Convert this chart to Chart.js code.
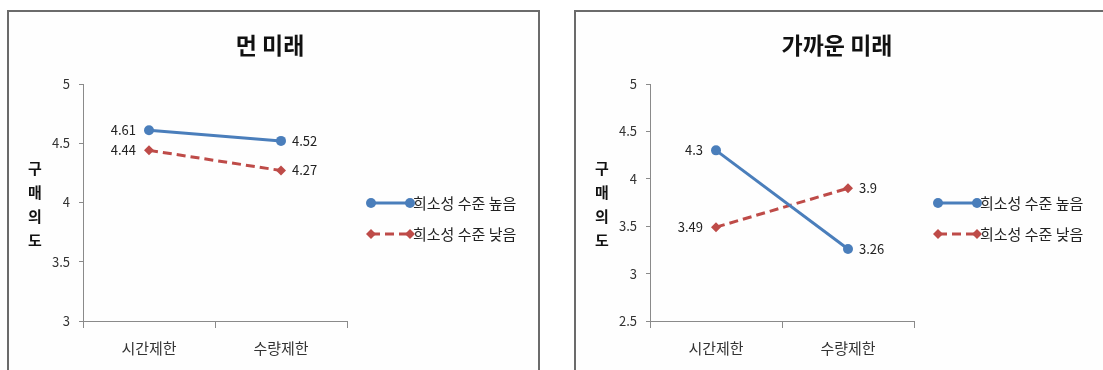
<!DOCTYPE html>
<html lang="ko">
<head>
<meta charset="utf-8">
<title>구매의도</title>
<script src="https://cdn.jsdelivr.net/npm/chart.js@4/dist/chart.umd.min.js"></script>
<style>
  html, body { margin: 0; padding: 0; background: #ffffff; }
  body { width: 1103px; height: 370px; position: relative; overflow: hidden; }
  .panel { position: absolute; top: 10px; height: 380px; border: 2px solid #6b6b6b; box-sizing: border-box; background: #fefefe; }
  #panelFar { left: 7px; width: 533px; }
  #panelNear { left: 574px; width: 560px; }
  canvas { position: absolute; top: 10px; }
  #far { left: 7px; }
  #near { left: 574px; }
</style>
</head>
<body>
<div class="panel" id="panelFar"></div>
<div class="panel" id="panelNear"></div>
<canvas id="far" width="533" height="360"></canvas>
<canvas id="near" width="533" height="360"></canvas>
<script>
// Categories, series and axis settings
const categories = ['시간제한', '수량제한'];
const seriesNames = ['희소성 수준 높음', '희소성 수준 낮음'];
const axisTitle = ['구', '매', '의', '도'];

const farTitle = '먼 미래';
const farHigh = [4.61, 4.52];
const farLow = [4.44, 4.27];
const farYMin = 3;
const farYMax = 5;

const nearTitle = '가까운 미래';
const nearHigh = [4.3, 3.26];
const nearLow = [3.49, 3.9];
const nearYMin = 2.5;
const nearYMax = 5;

const yStep = 0.5;

const FONT = "'Noto Sans CJK KR', 'Noto Sans', sans-serif";
const BLUE = '#4a7ebb';
const RED = '#be4b48';
const AXIS = '#8a8a8a';
const TEXT = '#222222';

// Title, stacked axis title, data labels and legend drawn over each panel
const panelDecor = {
  id: 'panelDecor',
  afterDatasetsDraw(chart, args, opts) {
    const ctx = chart.ctx;
    const area = chart.chartArea;
    ctx.save();

    // title
    ctx.fillStyle = '#111';
    ctx.font = `bold 23px ${FONT}`;
    ctx.textAlign = 'center';
    ctx.textBaseline = 'middle';
    ctx.fillText(opts.title, 263, 35);

    // vertical axis title, one syllable per line
    ctx.font = `bold 15px ${FONT}`;
    const midY = (area.top + area.bottom) / 2;
    const gap = 24;
    axisTitle.forEach((ch, i) => {
      ctx.fillText(ch, 28, midY + (i - (axisTitle.length - 1) / 2) * gap + 2);
    });

    // data labels: first category on the left, second on the right
    ctx.font = `13px ${FONT}`;
    ctx.fillStyle = TEXT;
    chart.data.datasets.forEach((ds, di) => {
      const meta = chart.getDatasetMeta(di);
      meta.data.forEach((pt, i) => {
        const txt = String(ds.data[i]);
        if (i === 0) {
          ctx.textAlign = 'right';
          ctx.fillText(txt, pt.x - 13, pt.y);
        } else {
          ctx.textAlign = 'left';
          ctx.fillText(txt, pt.x + 11, pt.y);
        }
      });
    });

    // legend
    const lx0 = 364, lx1 = 403, rows = [193, 224];
    chart.data.datasets.forEach((ds, di) => {
      const y = rows[di];
      ctx.strokeStyle = ds.borderColor;
      ctx.lineWidth = ds.borderWidth;
      ctx.setLineDash(ds.borderDash || []);
      ctx.beginPath();
      ctx.moveTo(lx0, y);
      ctx.lineTo(lx1, y);
      ctx.stroke();
      ctx.setLineDash([]);
      ctx.fillStyle = ds.backgroundColor;
      [lx0, lx1].forEach(x => {
        Chart.helpers.drawPoint(ctx, {
          pointStyle: ds.pointStyle,
          radius: ds.pointRadius,
          borderWidth: 0
        }, x, y);
      });
      ctx.fillStyle = TEXT;
      ctx.textAlign = 'left';
      ctx.font = `15px ${FONT}`;
      ctx.fillText(ds.label, 406, y);
    });

    ctx.restore();
  }
};

function makeChart(id, title, high, low, yMin, yMax) {
  return new Chart(document.getElementById(id), {
    type: 'line',
    data: {
      labels: categories,
      datasets: [
        {
          label: seriesNames[0],
          data: high,
          borderColor: BLUE,
          backgroundColor: BLUE,
          borderWidth: 3,
          pointStyle: 'circle',
          pointRadius: 5,
          pointBorderWidth: 0,
          tension: 0
        },
        {
          label: seriesNames[1],
          data: low,
          borderColor: RED,
          backgroundColor: RED,
          borderWidth: 3,
          borderDash: [9, 5],
          pointStyle: 'rectRot',
          pointRadius: 5,
          pointBorderWidth: 0,
          tension: 0
        }
      ]
    },
    options: {
      responsive: false,
      animation: false,
      devicePixelRatio: 1,
      layout: { padding: { top: 74, right: 193, bottom: 0, left: 0 } },
      plugins: {
        legend: { display: false },
        title: { display: false },
        tooltip: { enabled: false },
        panelDecor: { title }
      },
      scales: {
        x: {
          offset: true,
          grid: {
            offset: true,
            drawOnChartArea: false,
            drawTicks: true,
            tickLength: 7,
            color: AXIS
          },
          border: { color: AXIS, width: 1 },
          ticks: {
            padding: 11,
            color: '#333',
            font: { family: FONT, size: 15 }
          },
          afterFit(scale) { scale.height = 49; }
        },
        y: {
          min: yMin,
          max: yMax,
          grid: {
            drawOnChartArea: false,
            drawTicks: true,
            tickLength: 4,
            color: AXIS
          },
          border: { color: AXIS, width: 1 },
          ticks: {
            stepSize: yStep,
            padding: 9,
            color: '#333',
            font: { family: FONT, size: 13 },
            callback: v => String(v)
          },
          afterFit(scale) { scale.width = 76; }
        }
      }
    },
    plugins: [panelDecor]
  });
}

makeChart('far', farTitle, farHigh, farLow, farYMin, farYMax);
makeChart('near', nearTitle, nearHigh, nearLow, nearYMin, nearYMax);
</script>
</body>
</html>
